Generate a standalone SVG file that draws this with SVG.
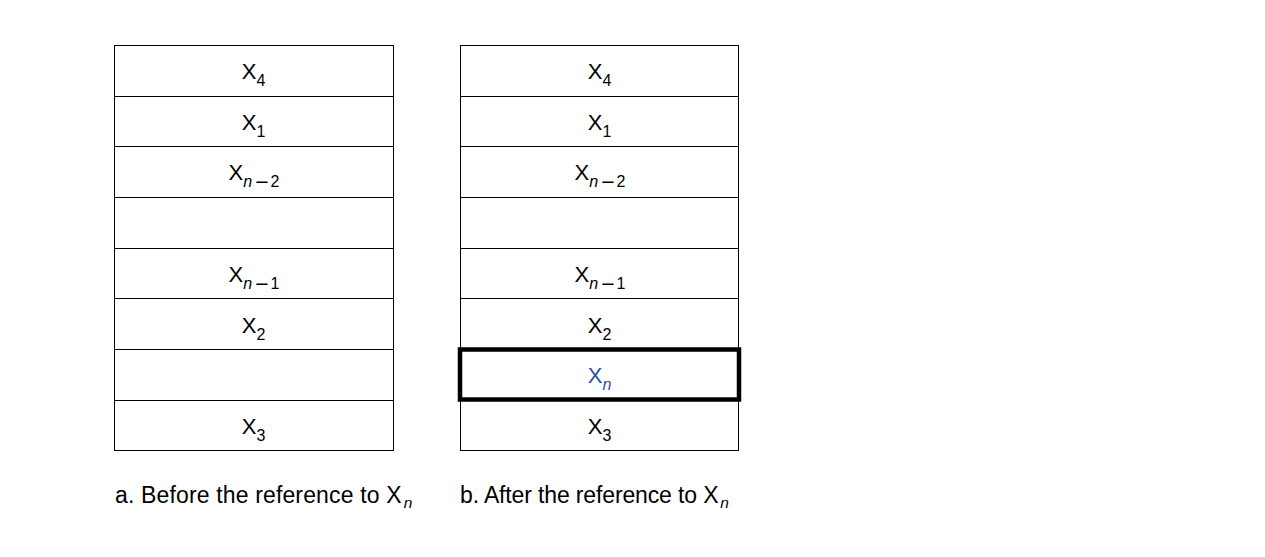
<svg xmlns="http://www.w3.org/2000/svg" width="1265" height="557" viewBox="0 0 1265 557">
<style>
.cell{fill:#fff;stroke:#000;stroke-width:1}
.bold{fill:none;stroke:#000;stroke-width:4.5}
.t{font-family:"Liberation Sans",Arial,sans-serif;font-size:22px;fill:#000;text-anchor:middle}
.s{font-size:16px}
.m{font-size:23px}
.i{font-style:italic}
.cap{font-family:"Liberation Sans",Arial,sans-serif;font-size:23px;fill:#000}
.cs{font-size:15.5px;font-style:italic}
.blue{fill:#24539b}
</style>
<rect width="1265" height="557" fill="#fff"/>
<g id="tableA">
<rect class="cell" x="114.5" y="45.5" width="279" height="51"/>
<rect class="cell" x="114.5" y="96.5" width="279" height="50"/>
<rect class="cell" x="114.5" y="146.5" width="279" height="51"/>
<rect class="cell" x="114.5" y="197.5" width="279" height="51"/>
<rect class="cell" x="114.5" y="248.5" width="279" height="50"/>
<rect class="cell" x="114.5" y="298.5" width="279" height="51"/>
<rect class="cell" x="114.5" y="349.5" width="279" height="51"/>
<rect class="cell" x="114.5" y="400.5" width="279" height="50"/>
<text class="t" x="253.5" y="79">X<tspan class="s" dy="7">4</tspan></text>
<text class="t" x="253.5" y="130">X<tspan class="s" dy="7">1</tspan></text>
<text class="t" x="254" y="180">X<tspan class="s i" dy="7">n</tspan><tspan class="m" dx="3" dy="2.5">−</tspan><tspan class="s" dx="2" dy="-2.5">2</tspan></text>
<text class="t" x="254" y="282">X<tspan class="s i" dy="7">n</tspan><tspan class="m" dx="3" dy="2.5">−</tspan><tspan class="s" dx="2" dy="-2.5">1</tspan></text>
<text class="t" x="253.5" y="332.5">X<tspan class="s" dy="7">2</tspan></text>
<text class="t" x="253.5" y="434">X<tspan class="s" dy="7">3</tspan></text>
</g>
<g id="tableB">
<rect class="cell" x="460.5" y="45.5" width="278" height="51"/>
<rect class="cell" x="460.5" y="96.5" width="278" height="50"/>
<rect class="cell" x="460.5" y="146.5" width="278" height="51"/>
<rect class="cell" x="460.5" y="197.5" width="278" height="51"/>
<rect class="cell" x="460.5" y="248.5" width="278" height="50"/>
<rect class="cell" x="460.5" y="298.5" width="278" height="51"/>
<rect class="cell" x="460.5" y="349.5" width="278" height="51"/>
<rect class="cell" x="460.5" y="400.5" width="278" height="50"/>
<text class="t" x="599.5" y="79">X<tspan class="s" dy="7">4</tspan></text>
<text class="t" x="599.5" y="130">X<tspan class="s" dy="7">1</tspan></text>
<text class="t" x="600" y="180">X<tspan class="s i" dy="7">n</tspan><tspan class="m" dx="3" dy="2.5">−</tspan><tspan class="s" dx="2" dy="-2.5">2</tspan></text>
<text class="t" x="600" y="282">X<tspan class="s i" dy="7">n</tspan><tspan class="m" dx="3" dy="2.5">−</tspan><tspan class="s" dx="2" dy="-2.5">1</tspan></text>
<text class="t" x="599.5" y="332.5">X<tspan class="s" dy="7">2</tspan></text>
<g id="selected">
<rect class="bold" x="460" y="349.5" width="279" height="50"/>
<text class="t blue" x="599.5" y="383">X<tspan class="s i" dy="7">n</tspan></text>
</g>
<text class="t" x="599.5" y="434">X<tspan class="s" dy="7">3</tspan></text>
</g>
<g id="captions">
<text class="cap" x="115" y="503"><tspan textLength="286.5" lengthAdjust="spacing">a. Before the reference to X</tspan><tspan class="cs" dx="2" dy="4.5">n</tspan></text>
<text class="cap" x="460" y="503"><tspan textLength="258.5" lengthAdjust="spacing">b. After the reference to X</tspan><tspan class="cs" dx="2" dy="4.5">n</tspan></text>
</g>
</svg>
